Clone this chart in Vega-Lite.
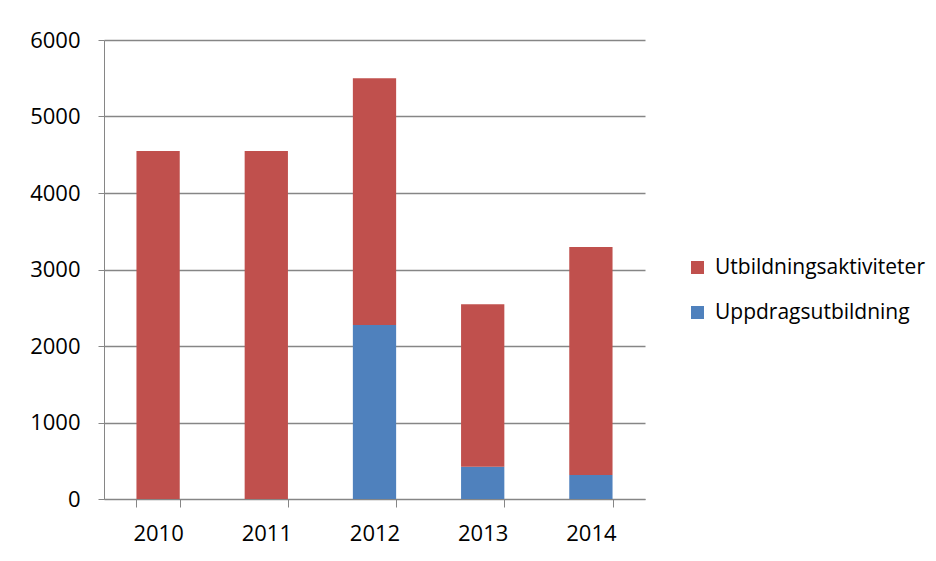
{
  "$schema": "https://vega.github.io/schema/vega-lite/v6.json",
  "autosize": {"type": "none"},
  "padding": {"left": 104, "top": 40, "right": 291, "bottom": 62},
  "width": 541,
  "height": 459,
  "background": "white",
  "config": {
    "view": {"stroke": null},
    "font": "Open Sans"
  },
  "data": {
    "values": [
      {"year": "2010", "series": "Uppdragsutbildning", "value": 0},
      {"year": "2010", "series": "Utbildningsaktiviteter", "value": 4550},
      {"year": "2011", "series": "Uppdragsutbildning", "value": 0},
      {"year": "2011", "series": "Utbildningsaktiviteter", "value": 4550},
      {"year": "2012", "series": "Uppdragsutbildning", "value": 2275},
      {"year": "2012", "series": "Utbildningsaktiviteter", "value": 3225},
      {"year": "2013", "series": "Uppdragsutbildning", "value": 420},
      {"year": "2013", "series": "Utbildningsaktiviteter", "value": 2126},
      {"year": "2014", "series": "Uppdragsutbildning", "value": 313},
      {"year": "2014", "series": "Utbildningsaktiviteter", "value": 2981}
    ]
  },
  "mark": {"type": "bar"},
  "encoding": {
    "x": {
      "field": "year",
      "type": "ordinal",
      "scale": {"paddingInner": 0.6, "paddingOuter": 0.3},
      "axis": {
        "title": null,
        "labelAngle": 0,
        "labelFont": "Open Sans",
        "labelFontSize": 22,
        "labelColor": "#000000",
        "labelPadding": 16,
        "tickBand": "extent",
        "tickSize": 8,
        "tickColor": "#868686",
        "domainColor": "#868686",
        "grid": false
      }
    },
    "y": {
      "field": "value",
      "type": "quantitative",
      "stack": "zero",
      "scale": {"domain": [0, 6000]},
      "axis": {
        "title": null,
        "values": [0, 1000, 2000, 3000, 4000, 5000, 6000],
        "format": "d",
        "labelFont": "Open Sans",
        "labelFontSize": 22,
        "labelColor": "#000000",
        "labelPadding": 18,
        "tickSize": 6,
        "tickColor": "#868686",
        "domainColor": "#868686",
        "grid": true,
        "gridColor": "#868686",
        "gridWidth": 1.5
      }
    },
    "color": {
      "field": "series",
      "type": "nominal",
      "scale": {
        "domain": ["Utbildningsaktiviteter", "Uppdragsutbildning"],
        "range": ["#C0504D", "#4F81BD"]
      },
      "legend": {
        "title": null,
        "orient": "none",
        "legendX": 583,
        "legendY": 217,
        "symbolType": "square",
        "symbolSize": 169,
        "symbolStrokeWidth": 0,
        "labelFont": "Open Sans",
        "labelFontSize": 21,
        "labelColor": "#000000",
        "labelOffset": 7,
        "labelLimit": 400,
        "rowPadding": 23
      }
    },
    "order": {"field": "series", "sort": "ascending"}
  }
}
